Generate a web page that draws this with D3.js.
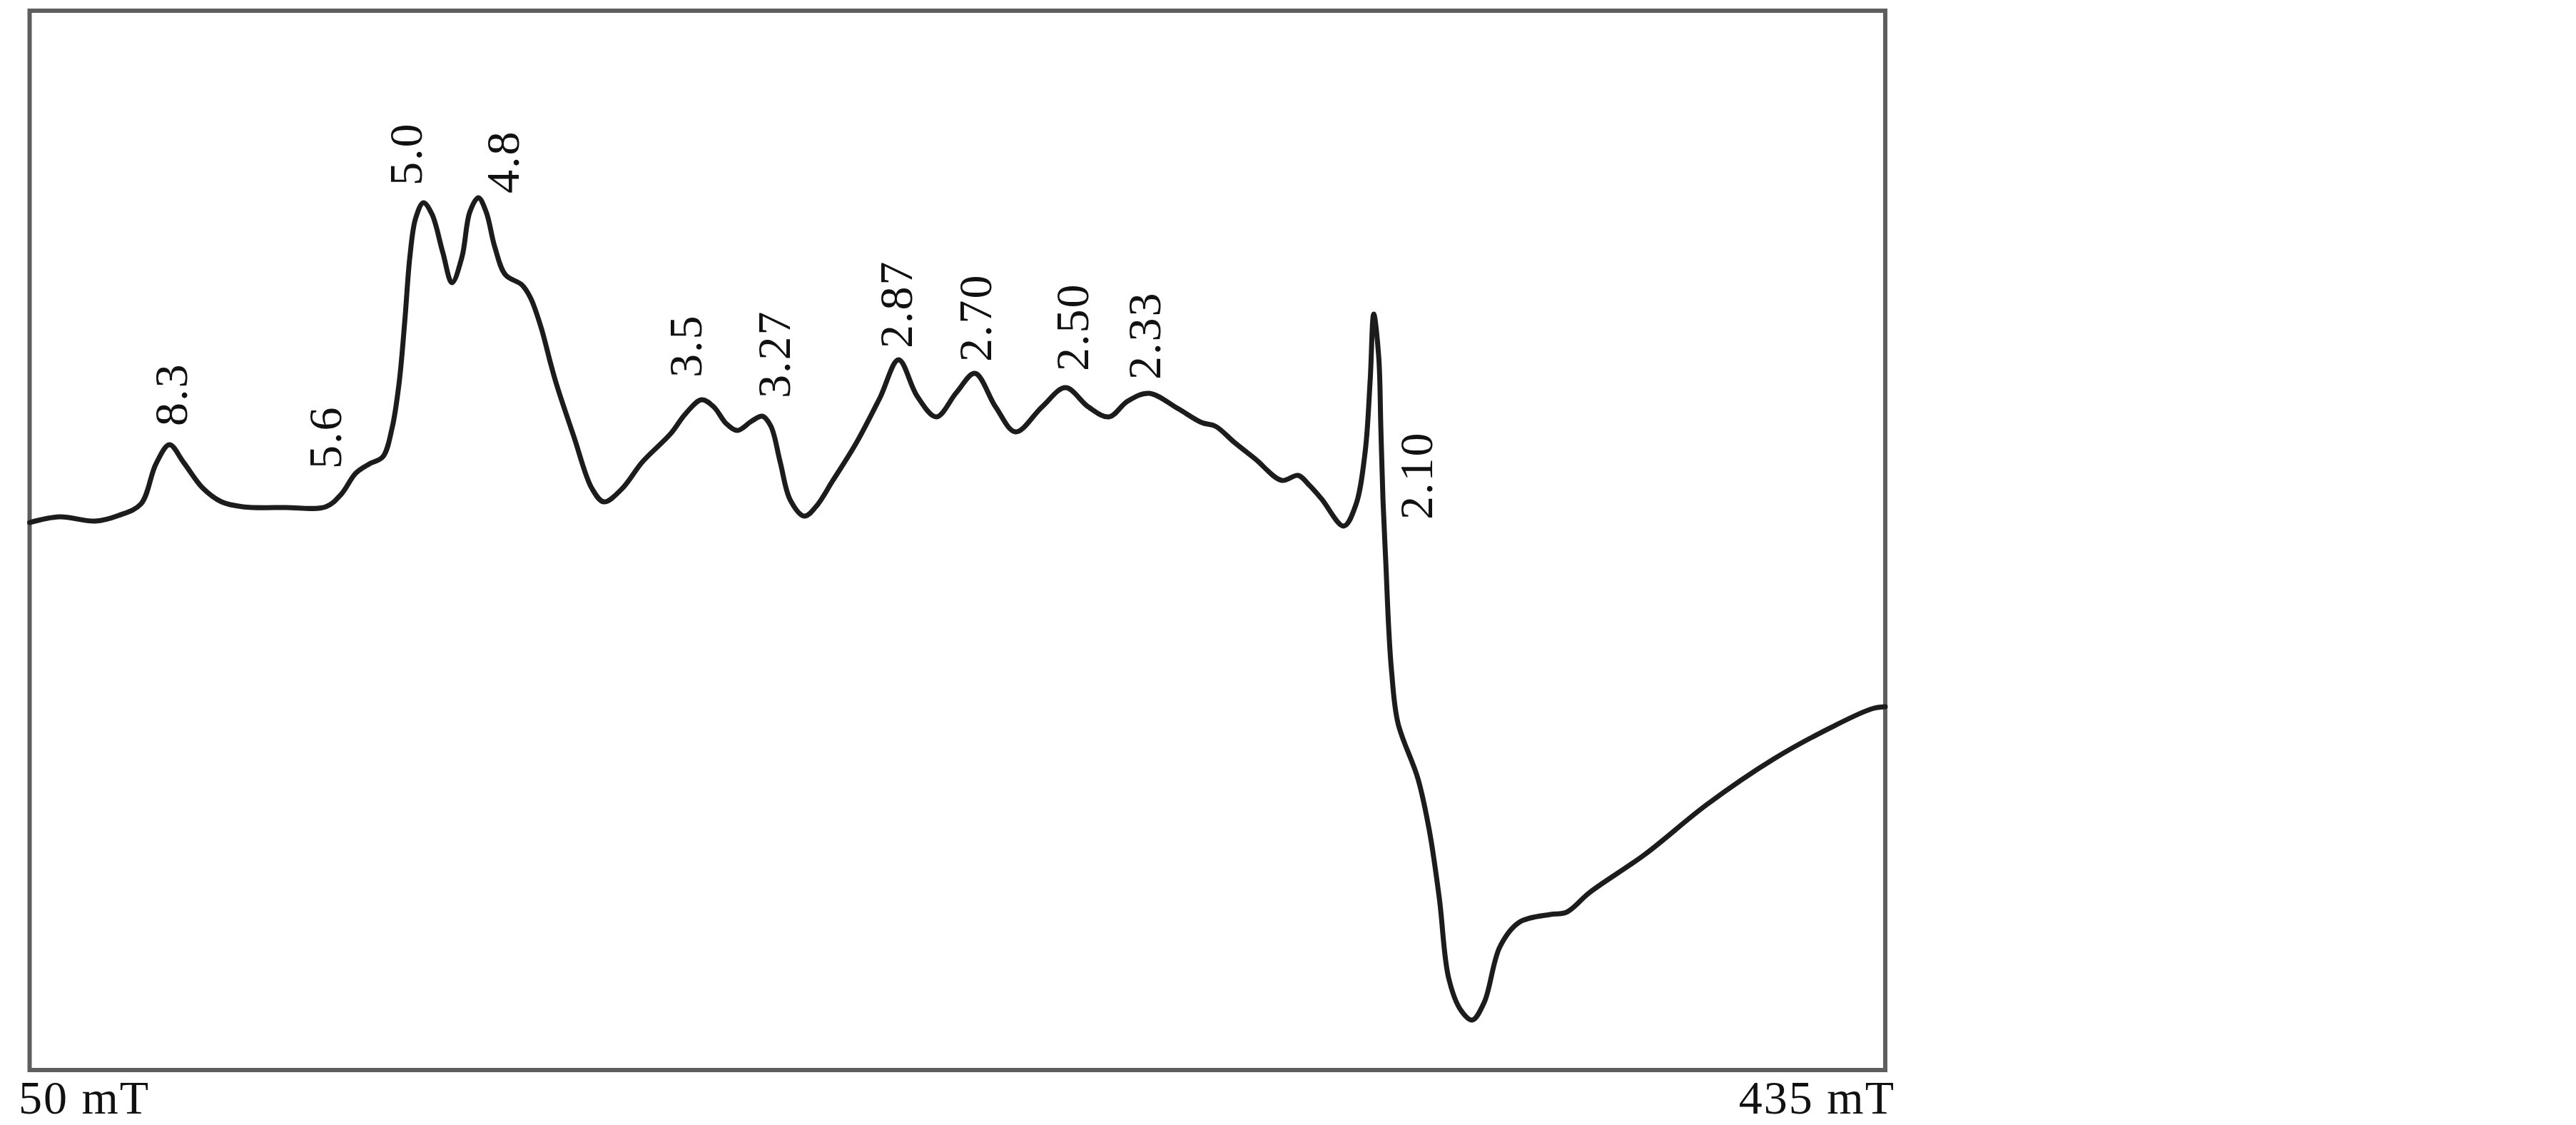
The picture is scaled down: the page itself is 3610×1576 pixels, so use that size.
<!DOCTYPE html>
<html>
<head>
<meta charset="utf-8">
<script src="https://cdn.jsdelivr.net/npm/d3@7.9.0/dist/d3.min.js"></script>
<style>
  html, body { margin: 0; padding: 0; background: #fff; }
  svg { display: block; }
  .peak-label, .field-label {
    font-family: "Liberation Serif", "Times New Roman", serif;
    font-size: 66px;
    fill: #111;
    letter-spacing: 2px;
  }
</style>
</head>
<body>
<svg id="chart"></svg>
<script>
// EPR spectrum: magnetic field (mT) vs. signal (arbitrary units)
const fieldMT = [
  50.00, 56.22, 63.62, 68.50, 73.09, 76.20, 79.01, 81.97, 85.82, 89.82,
  94.26, 103.14, 111.43, 114.68, 117.65, 120.46, 123.27, 125.19, 126.67, 127.86,
  128.89, 130.08, 131.71, 133.48, 135.70, 137.63, 139.70, 141.33, 143.10, 144.73,
  146.51, 148.73, 152.13, 153.91, 156.13, 158.05, 159.39, 162.94, 166.64, 169.16,
  172.86, 177.15, 183.07, 186.03, 189.43, 191.95, 194.47, 196.84, 199.80, 202.02,
  203.79, 205.72, 207.79, 210.75, 213.12, 216.67, 221.56, 226.44, 230.29, 234.14,
  238.13, 242.28, 246.13, 250.42, 254.56, 260.04, 264.93, 269.66, 273.95, 277.80,
  282.24, 288.16, 293.20, 296.01, 300.01, 304.30, 309.78, 313.18, 315.55, 318.06,
  322.65, 325.17, 327.09, 328.13, 328.87, 329.91, 330.35, 330.79, 331.39, 331.98,
  332.57, 333.90, 338.05, 340.42, 342.49, 344.41, 346.93, 349.30, 351.81, 355.07,
  359.07, 365.58, 368.84, 373.72, 385.12, 398.00, 411.91, 424.05, 432.19, 435.00
];

const signal = [
  3.16, 4.24, 3.43, 4.51, 6.66, 14.19, 17.82, 14.46, 9.75, 7.06,
  6.12, 5.99, 6.12, 8.54, 12.44, 14.19, 15.53, 20.91, 29.52, 41.36,
  53.19, 60.46, 63.42, 61.26, 54.14, 48.35, 53.19, 61.67, 64.36, 61.67,
  55.08, 49.83, 47.95, 45.53, 39.88, 33.29, 28.98, 19.30, 9.62, 7.06,
  9.48, 14.59, 19.97, 23.60, 26.29, 24.95, 21.86, 20.51, 22.26, 23.20,
  21.32, 14.59, 7.46, 4.37, 6.12, 11.10, 18.22, 26.70, 33.83, 26.97,
  23.07, 27.64, 31.27, 24.95, 20.24, 24.95, 28.58, 24.95, 23.07, 26.03,
  27.51, 24.68, 21.99, 21.32, 18.22, 15.13, 11.10, 12.04, 10.15, 7.60,
  2.49, 6.52, 16.48, 29.93, 42.43, 34.36, 20.91, 7.46, -4.64, -16.75,
  -24.82, -34.63, -45.12, -54.94, -67.72, -82.65, -88.70, -90.58, -87.22, -76.73,
  -72.16, -70.68, -70.28, -66.51, -59.38, -49.97, -41.36, -35.31, -31.94, -31.54
];

// g-value labels and where they sit (field, signal at the label start)
const peakLabels = ["8.3", "5.6", "5.0", "4.8", "3.5", "3.27", "2.87", "2.70", "2.50", "2.33", "2.10"];
const labelField = [82.71, 114.68, 131.41, 151.54, 189.43, 207.79, 233.10, 249.53, 269.66, 284.61, 341.01];
const labelSignal = [21.32, 13.25, 66.64, 65.16, 30.46, 26.56, 35.98, 33.42, 31.67, 30.06, 3.70];

// field range shown on the x axis
const fieldDomain = [50, 435];
const fieldTickLabels = ["50 mT", "435 mT"];

const width = 3610, height = 1576;
const margin = { top: 15, right: 968, bottom: 77, left: 41.5 };

const svg = d3.select('#chart')
  .attr('width', width)
  .attr('height', height);

const x = d3.scaleLinear()
  .domain(fieldDomain)
  .range([margin.left, width - margin.right]);

const y = d3.scaleLinear()
  .domain([-100, 99.6])
  .range([height - margin.bottom, margin.top]);

// frame
svg.append('rect')
  .attr('x', x(fieldDomain[0]))
  .attr('y', y.range()[1])
  .attr('width', x(fieldDomain[1]) - x(fieldDomain[0]))
  .attr('height', y.range()[0] - y.range()[1])
  .attr('fill', 'none')
  .attr('stroke', '#5e5e5e')
  .attr('stroke-width', 6);

// spectrum line
const points = fieldMT.map((f, i) => ({ f, s: signal[i] }));
const line = d3.line()
  .x(d => x(d.f))
  .y(d => y(d.s))
  .curve(d3.curveCatmullRom.alpha(0.5));

svg.append('path')
  .datum(points)
  .attr('d', line)
  .attr('fill', 'none')
  .attr('stroke', '#1c1c1c')
  .attr('stroke-width', 7)
  .attr('stroke-linejoin', 'round')
  .attr('stroke-linecap', 'round');

// rotated g-value labels
svg.selectAll('.peak-label')
  .data(peakLabels)
  .join('text')
  .attr('class', 'peak-label')
  .attr('transform', (d, i) => `translate(${x(labelField[i])},${y(labelSignal[i])}) rotate(-90)`)
  .attr('text-anchor', 'start')
  .text(d => d);

// field end labels under the frame
svg.selectAll('.field-label')
  .data(fieldTickLabels)
  .join('text')
  .attr('class', 'field-label')
  .attr('x', (d, i) => i === 0 ? 26 : 2656)
  .attr('y', 1560)
  .attr('text-anchor', (d, i) => i === 0 ? 'start' : 'end')
  .text(d => d);
</script>
</body>
</html>
